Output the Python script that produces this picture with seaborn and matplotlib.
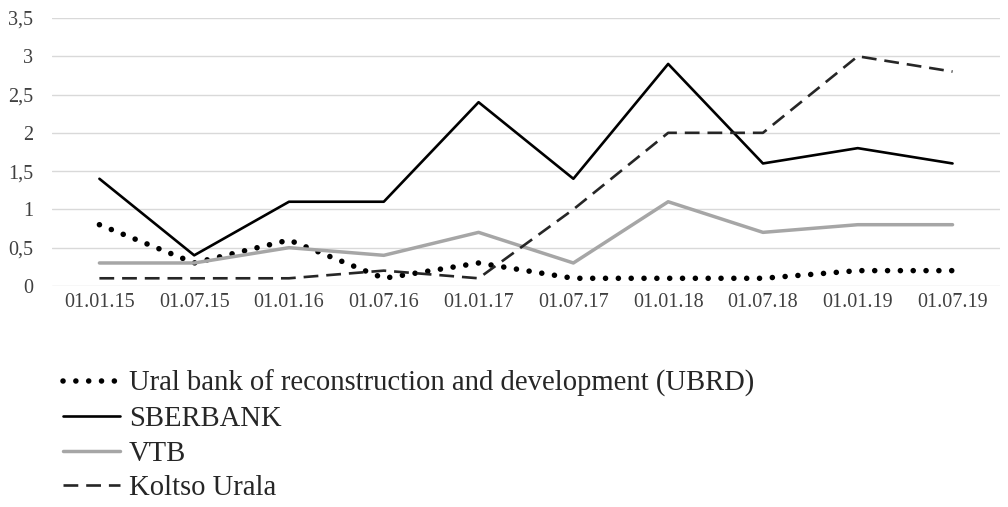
import matplotlib
matplotlib.use("Agg")
import matplotlib.pyplot as plt
import seaborn as sns
import pandas as pd

dates = ["01.01.15", "01.07.15", "01.01.16", "01.07.16", "01.01.17",
         "01.07.17", "01.01.18", "01.07.18", "01.01.19", "01.07.19"]
ubrd = [0.8, 0.3, 0.6, 0.1, 0.3, 0.1, 0.1, 0.1, 0.2, 0.2]
sberbank = [1.4, 0.4, 1.1, 1.1, 2.4, 1.4, 2.9, 1.6, 1.8, 1.6]
vtb = [0.3, 0.3, 0.5, 0.4, 0.7, 0.3, 1.1, 0.7, 0.8, 0.8]
koltso = [0.1, 0.1, 0.1, 0.2, 0.1, 1.0, 2.0, 2.0, 3.0, 2.8]

names = ["Ural bank of reconstruction and development (UBRD)",
         "SBERBANK", "VTB", "Koltso Urala"]
yticks = [0, 0.5, 1, 1.5, 2, 2.5, 3, 3.5]
ytick_labels = ["0", "0,5", "1", "1,5", "2", "2,5", "3", "3,5"]

sns.set_theme(style="white")
plt.rcParams["font.family"] = ["Liberation Serif", "DejaVu Serif"]

fig = plt.figure(figsize=(10.08, 5.07), dpi=100)
ax = fig.add_axes([0.0516, 0.436, 0.9404, 0.5285])

styles = [
    dict(color="black", lw=4.0, dashes=(0.01, 2.3), dash_capstyle="round"),
    dict(color="black", lw=1.9),
    dict(color="#a6a6a6", lw=2.5),
    dict(color="#262626", lw=1.9, dashes=(5.6, 3.0)),
]

handles = []
for name, vals, st in zip(names, [ubrd, sberbank, vtb, koltso], styles):
    df = pd.DataFrame({"date": dates, "value": vals})
    sns.lineplot(data=df, x="date", y="value", ax=ax, color=st["color"],
                 linewidth=st["lw"], sort=False, legend=False)
    line = ax.lines[-1]
    if "dashes" in st:
        line.set_dashes(st["dashes"])
    if "dash_capstyle" in st:
        line.set_dash_capstyle(st["dash_capstyle"])
    handles.append(line)

ax.set_xlim(-0.5, len(dates) - 0.5)
ax.set_ylim(0, 3.5)
ax.set_yticks(yticks)
ax.set_yticklabels(ytick_labels, fontsize=14.5, color="#404040")
ax.set_xticks(range(len(dates)))
ax.set_xticklabels(dates, fontsize=14.5, color="#404040")
ax.tick_params(axis="x", length=0, pad=5)
ax.tick_params(axis="y", length=0, pad=13.5)
ax.yaxis.grid(True, color="#d9d9d9", linewidth=1)
ax.set_axisbelow(True)
for s in ax.spines.values():
    s.set_visible(False)
ax.set_xlabel("")
ax.set_ylabel("")

fig.legend(handles, names, loc="upper left", bbox_to_anchor=(0.0625, 0.27),
           frameon=False, fontsize=20.6, handlelength=2.0, handletextpad=0.3,
           labelspacing=0.3, borderaxespad=0, borderpad=0)

fig.savefig("out.png", dpi=100)
